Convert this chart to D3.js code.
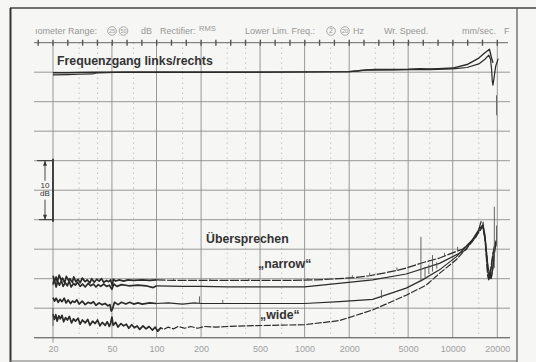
<!DOCTYPE html>
<html>
<head>
<meta charset="utf-8">
<script src="https://cdn.jsdelivr.net/npm/d3@7/dist/d3.min.js"></script>
<style>
    html, body { margin: 0; padding: 0; background: #f6f6f4; }
    svg { display: block; }
    text { font-family: "Liberation Sans", Arial, sans-serif; }
</style>
</head>
<body>
<div id="chart"></div>
<script>
// frequency axis labels and grid
const tickHz = [20, 50, 100, 200, 500, 1000, 2000, 5000, 10000, 20000];
const minorHz = [30, 40, 70, 150, 300, 400, 700, 1500, 3000, 4000, 7000, 15000];
const gridDb = [0, -5, -10, -15, -20, -25, -30, -35, -40, -45];

// Frequenzgang links/rechts  [Hz, dB]
const frLeft = [[20, -0.1], [25, -0.1], [30, -0.05], [40, 0], [60, 0], [100, 0], [200, 0], [500, 0.02],
    [1000, 0.05], [2000, 0.1], [2300, 0.2], [2600, 0.4], [3000, 0.45], [4000, 0.45], [5000, 0.5],
    [6000, 0.6], [7000, 0.55], [8000, 0.6], [10000, 0.7], [12500, 1.3], [15000, 2.4], [16500, 3.3],
    [17700, 3.9], [18200, 2.6], [18700, 1.6]];
const frRight = [[20, -0.45], [25, -0.4], [30, -0.35], [37, -0.3], [40, -0.1], [60, 0], [100, 0], [200, 0],
    [500, 0], [1000, 0.03], [2000, 0.1], [2400, 0.3], [2700, 0.35], [4000, 0.4], [5000, 0.45], [7000, 0.45],
    [10000, 0.55], [12500, 0.8], [15000, 1.4], [16500, 2.2], [17500, 2.9], [18000, 2.2], [18300, 0.5],
    [18500, -1.5], [18700, -2.2], [19000, -1.0], [19500, 1.0], [20300, 2.3]];
const frTrace = [[19750, -3.9], [19800, -7.3]];

// Übersprechen "narrow"  [Hz, dB]
const narrowUpper = [[20, -34.5], [20.5, -35.4], [21, -34.7], [21.4, -35.6], [22, -34.4], [22.7, -35.2],
    [23.2, -34.9], [24, -35.7], [24.6, -34.6], [25.5, -35.3], [26, -35.0], [27, -35.6], [27.6, -34.7],
    [28.5, -35.5], [29.5, -35.1], [30.5, -35.7], [31.5, -34.9], [33, -35.5], [34, -35.2], [35.5, -35.7],
    [36.5, -35.0], [38, -35.6], [39.5, -35.1], [41, -35.4], [42.5, -35.0], [44, -35.6], [46, -35.3],
    [47.5, -35.5], [49, -35.2], [50.3, -36.2], [51, -35.1], [53, -35.4], [56, -35.2], [60, -35.4],
    [64, -35.2], [70, -35.3], [80, -35.2], [90, -35.3], [100, -35.2], [130, -35.3], [200, -35.3],
    [300, -35.3], [500, -35.3], [800, -35.3], [1200, -35.2], [1700, -35.0], [2200, -34.8], [2750, -34.5],
    [3500, -34.0], [4200, -33.6], [4850, -33.2], [6250, -32.3], [8140, -31.5], [10500, -30.4],
    [11640, -30.0], [13000, -29.0], [14390, -27.9], [15000, -26.6], [15560, -25.3], [16000, -25.4],
    [16600, -29], [17200, -34.5], [17500, -35.2], [17900, -34], [18600, -31], [19300, -29], [19640, -28.7]];
const narrowLower = [[20, -36.0], [20.4, -35.1], [21, -36.4], [21.5, -35.5], [22.1, -36.1], [22.8, -35.3],
    [23.4, -36.3], [24.2, -35.7], [25, -36.2], [25.7, -35.4], [26.5, -36.4], [27.5, -35.8], [28.3, -36.1],
    [29.2, -35.6], [30.5, -36.3], [31.7, -35.9], [33, -36.4], [34.5, -35.8], [36, -36.2], [37.5, -35.9],
    [39, -36.4], [40.5, -36.0], [42, -36.3], [44, -35.9], [46, -36.3], [48, -36.1], [50, -36.8],
    [51.5, -35.9], [54, -36.3], [58, -36.0], [65, -36.2], [75, -36.1], [85, -36.2], [95, -36.5],
    [100, -36.2], [150, -36.3], [200, -36.3], [300, -36.4], [500, -36.4], [1000, -36.4], [1700, -35.8],
    [2880, -35.2], [4850, -34.2], [8140, -32.4], [12320, -30.1], [15140, -26.5], [15950, -25.9],
    [16500, -27.5], [17300, -33], [18160, -35.0], [18600, -33.5], [19100, -30.5], [19640, -28.5]];

// Übersprechen "wide"  [Hz, dB]
const wideUpper = [[20, -38.2], [20.5, -38.8], [21, -38.3], [21.7, -39.0], [22.3, -38.5], [23, -38.9],
    [23.8, -38.3], [24.5, -39.1], [25.3, -38.6], [26.3, -39.2], [27, -38.8], [28, -39.0], [29, -38.6],
    [30, -39.3], [31.5, -38.8], [33, -39.4], [34.5, -39.0], [36, -39.2], [37.5, -38.9], [39, -39.5],
    [41, -39.1], [43, -39.4], [45, -39.2], [47, -39.6], [48.5, -39.4], [49.5, -40.5], [50.5, -40.1],
    [52, -39.0], [55, -39.4], [58, -39.0], [62, -39.3], [66, -39.0], [70, -39.3], [75, -39.1],
    [80, -39.3], [90, -39.1], [100, -39.2], [120, -39.1], [150, -39.3], [180, -39.1], [200, -39.2],
    [300, -39.2], [500, -39.2], [1000, -39.2], [1720, -38.9], [2880, -38.5], [4850, -36.6],
    [6250, -35.2], [8140, -33.5], [10550, -31.3], [13590, -28.4], [15950, -26.1], [16500, -28],
    [17200, -33.5], [17600, -35.0], [18000, -34.2], [18800, -30.5], [19500, -29]];
const wideLower = [[20, -41.0], [20.4, -41.9], [20.9, -41.1], [21.3, -42.2], [21.9, -41.3], [22.4, -41.8],
    [23, -41.2], [23.6, -42.3], [24.3, -41.6], [25, -42.0], [25.8, -41.4], [26.7, -42.5], [27.5, -41.8],
    [28.4, -42.2], [29.5, -41.7], [30.5, -42.7], [31.6, -42.0], [33, -42.5], [34.3, -41.9], [35.5, -42.9],
    [37, -42.2], [38.5, -42.6], [40, -42.0], [41.5, -43.0], [43, -42.4], [45, -42.9], [46.5, -42.3],
    [48, -43.1], [49, -42.5], [50, -41.5], [51, -42.9], [53, -42.4], [55, -43.2], [57.5, -42.6],
    [60, -43.0], [62.5, -42.7], [65, -43.4], [68, -42.8], [71, -43.3], [74, -43.0], [77, -43.6],
    [81, -43.0], [85, -43.5], [89, -43.1], [94, -43.7], [98, -43.2], [102, -43.9], [107, -43.3],
    [112, -43.6], [120, -43.2], [130, -43.5], [140, -43.1], [155, -43.4], [170, -43.1], [190, -43.4],
    [210, -43.1], [250, -43.2], [300, -43.1], [400, -43.0], [600, -42.9], [1000, -42.8], [1720, -42.1],
    [2880, -40.3], [4850, -37.8], [6620, -36.1], [8140, -34.1], [10550, -31.8], [13590, -28.7],
    [15950, -26.2], [16600, -28.5], [17400, -33.8], [18160, -35.1], [18700, -33], [19300, -30], [19640, -29]];

// short vertical pen marks  [Hz, dB top, dB bottom]
const spikes = [[20, -40.0, -43.0], [130, -35.0, -35.3], [230, -35.0, -35.3], [420, -35.0, -35.3],
    [1050, -34.9, -35.2], [2100, -34.4, -34.9], [2750, -34.0, -34.5], [4200, -33.1, -33.6],
    [6100, -27.9, -35.5], [6500, -33.0, -34.8], [6900, -32.6, -34.2], [7300, -31.0, -33.8],
    [7800, -32.2, -33.3], [8800, -30.6, -31.2], [10800, -29.6, -30.3], [195, -38.0, -39.2],
    [280, -38.6, -39.2], [3300, -36.9, -38.3], [19100, -22.8, -33.2], [19750, -26.0, -29.5]];

let svgWidth = 536,
    svgHeight = 362;

let svg = d3.select('#chart')
    .append('svg')
    .attr('width', svgWidth)
    .attr('height', svgHeight);

let x = d3.scaleLog().domain([20, 20000]).range([53, 497.3]),
    y = d3.scaleLinear().domain([5, -45]).range([42.7, 337.7]);

let ink = '#2b2b2b',
    gridColor = '#8d8d8d',
    faint = '#969696';

// paper frame
svg.append('line').attr('x1', 10).attr('x2', 536).attr('y1', 8).attr('y2', 8)
    .attr('stroke', '#444').attr('stroke-width', 1.5);
svg.append('line').attr('x1', 10.5).attr('x2', 10.5).attr('y1', 8).attr('y2', 362)
    .attr('stroke', '#333').attr('stroke-width', 2);
svg.append('line').attr('x1', 517).attr('x2', 517).attr('y1', 8).attr('y2', 362)
    .attr('stroke', '#555').attr('stroke-width', 1.2);
svg.append('line').attr('x1', 10).attr('x2', 517).attr('y1', 361).attr('y2', 361)
    .attr('stroke', '#777').attr('stroke-width', 1);

// header of the recording paper
let header = svg.append('g').attr('fill', faint).attr('font-size', 9);
header.append('text').attr('x', 35).attr('y', 34).text('ıometer Range:');
header.append('text').attr('x', 141).attr('y', 34).text('dB');
header.append('text').attr('x', 160).attr('y', 34).text('Rectifier:');
header.append('text').attr('x', 199).attr('y', 31).attr('font-size', 7.5).text('RMS');
header.append('text').attr('x', 245).attr('y', 34).text('Lower Lim. Freq.:');
header.append('text').attr('x', 353).attr('y', 34).text('Hz');
header.append('text').attr('x', 384).attr('y', 34).text('Wr. Speed.');
header.append('text').attr('x', 462).attr('y', 34).text('mm/sec.');
header.append('text').attr('x', 504).attr('y', 34).text('F');
[[112, '25'], [123.5, '50'], [331, '2'], [345, '20']].forEach(c => {
    header.append('circle').attr('cx', c[0]).attr('cy', 31).attr('r', 4.3)
        .attr('fill', 'none').attr('stroke', faint).attr('stroke-width', 0.8);
    header.append('text').attr('x', c[0]).attr('y', 33.2).attr('font-size', c[1].length > 1 ? 5.5 : 7)
        .attr('text-anchor', 'middle').text(c[1]);
});

// grid
let grid = svg.append('g');
grid.selectAll('.minor').data(minorHz).enter().append('line')
    .attr('x1', d => x(d)).attr('x2', d => x(d))
    .attr('y1', y(5)).attr('y2', y(-45))
    .attr('stroke', '#aaa').attr('stroke-width', 1).attr('stroke-dasharray', '1,4');
grid.selectAll('.hline').data(gridDb).enter().append('line')
    .attr('x1', 34).attr('x2', 510)
    .attr('y1', d => y(d)).attr('y2', d => y(d))
    .attr('stroke', gridColor).attr('stroke-width', 0.9);
grid.selectAll('.vline').data(tickHz).enter().append('line')
    .attr('x1', d => x(d)).attr('x2', d => x(d))
    .attr('y1', y(5)).attr('y2', d => d === 20 ? y(-45) + 5 : y(-45))
    .attr('stroke', gridColor).attr('stroke-width', 0.9);
// top rule with mm marks
grid.append('line').attr('x1', 34).attr('x2', 508).attr('y1', y(5)).attr('y2', y(5))
    .attr('stroke', '#666').attr('stroke-width', 1);
let step = (x(20000) - x(20)) / 30;
grid.selectAll('.mm').data(d3.range(-1, 31)).enter().append('line')
    .attr('x1', d => x(20) + d * step).attr('x2', d => x(20) + d * step)
    .attr('y1', y(5) - 3).attr('y2', y(5) + 3)
    .attr('stroke', '#555').attr('stroke-width', 1.4);
// bottom rule
grid.append('line').attr('x1', 34).attr('x2', 510).attr('y1', y(-45)).attr('y2', y(-45))
    .attr('stroke', '#666').attr('stroke-width', 1.1);

// frequency labels
let axis = svg.append('g')
    .attr('transform', 'translate(0,' + (y(-45) + 5) + ')')
    .call(d3.axisBottom(x).tickValues(tickHz).tickFormat(d3.format('d')).tickSize(0).tickPadding(3));
axis.select('.domain').remove();
axis.selectAll('text')
    .attr('fill', '#a0a0a0')
    .attr('font-size', 9)
    .attr('font-family', '"Liberation Sans Narrow", "Liberation Sans", sans-serif');

// 10 dB bracket
let b = svg.append('g').attr('stroke', '#333');
b.append('line').attr('x1', 53).attr('x2', 53).attr('y1', y(-15) - 2).attr('y2', y(-25) + 2)
    .attr('stroke-width', 1.8);
b.append('line').attr('x1', 37).attr('x2', 53).attr('y1', y(-15)).attr('y2', y(-15)).attr('stroke-width', 1);
b.append('line').attr('x1', 39).attr('x2', 53).attr('y1', y(-25)).attr('y2', y(-25)).attr('stroke-width', 1);
b.append('line').attr('x1', 45).attr('x2', 45).attr('y1', y(-15)).attr('y2', y(-15) + 20).attr('stroke-width', 0.9);
b.append('line').attr('x1', 45).attr('x2', 45).attr('y1', y(-25) - 20).attr('y2', y(-25)).attr('stroke-width', 0.9);
b.append('path').attr('d', 'M45,' + y(-15) + 'l-2,5h4z').attr('fill', '#333').attr('stroke', 'none');
b.append('path').attr('d', 'M45,' + y(-25) + 'l-2,-5h4z').attr('fill', '#333').attr('stroke', 'none');
svg.append('text').attr('x', 45).attr('y', 188).attr('text-anchor', 'middle')
    .attr('font-size', 8).attr('fill', '#333').text('10');
svg.append('text').attr('x', 45).attr('y', 196).attr('text-anchor', 'middle')
    .attr('font-size', 8).attr('fill', '#333').text('dB');

// curves: the noisy low end is drawn heavier, like the pen on paper
let line = d3.line().x(d => x(d[0])).y(d => y(d[1]));
let curves = svg.append('g').attr('fill', 'none').attr('stroke', ink).attr('stroke-linejoin', 'round');

curves.append('path').datum(frLeft).attr('d', line).attr('stroke-width', 1.4);
curves.append('path').datum(frRight).attr('d', line).attr('stroke-width', 1.2);
curves.append('path').datum(frTrace).attr('d', line).attr('stroke-width', 1).attr('stroke', '#666');

function drawTrace(data, dash) {
    let low = data.filter(d => d[0] <= 110),
        high = data.filter(d => d[0] >= 100);
    curves.append('path').datum(low).attr('d', line).attr('stroke-width', 1.7);
    curves.append('path').datum(high).attr('d', line).attr('stroke-width', 1.2)
        .attr('stroke-dasharray', dash);
}
drawTrace(narrowUpper, '9,1.5');
drawTrace(narrowLower, null);
drawTrace(wideUpper, null);
drawTrace(wideLower, '7,1.5');

curves.selectAll('.spike').data(spikes).enter().append('line')
    .attr('x1', d => x(d[0])).attr('x2', d => x(d[0]))
    .attr('y1', d => y(d[1])).attr('y2', d => y(d[2]))
    .attr('stroke-width', 0.9).attr('stroke', '#555');

// captions
let cap = svg.append('g').attr('fill', '#333').attr('font-weight', 'bold').attr('font-size', 12.3);
cap.append('text').attr('x', 57).attr('y', 64.5).text('Frequenzgang links/rechts');
cap.append('text').attr('x', 206).attr('y', 243).text('Übersprechen');
cap.append('text').attr('x', 258).attr('y', 268).text('„narrow“');
cap.append('text').attr('x', 260).attr('y', 319).text('„wide“');
</script>
</body>
</html>
